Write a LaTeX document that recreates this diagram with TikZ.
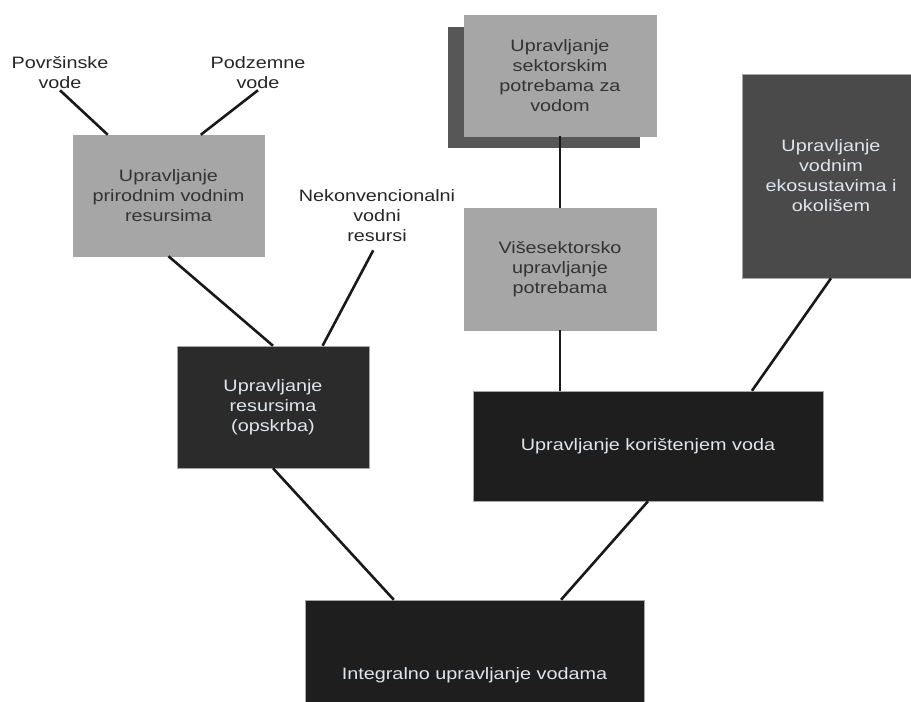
\documentclass[tikz,border=0pt]{standalone}
\usepackage{fontspec}
\setmainfont{Liberation Sans}[FakeStretch=1.2]
\usetikzlibrary{shadows}
\definecolor{lightgr}{HTML}{A6A6A6}
\definecolor{shadowgr}{HTML}{575757}
\definecolor{midgr}{HTML}{4A4A4A}
\definecolor{darkgr}{HTML}{2B2B2B}
\definecolor{nearblack}{HTML}{1E1E1E}
\definecolor{palefont}{HTML}{DDE6EE}
\begin{document}
\begin{tikzpicture}[x=1pt, y=-1pt,
    box/.style={draw=gray!70, line width=0.5pt, align=center, inner sep=0pt,
        font=\fontsize{16.5}{20}\selectfont},
    lightbox/.style={box, fill=lightgr, text=black!80},
    darkbox/.style={box, text=palefont},
    lbl/.style={align=center, inner sep=1pt, text=black!85, font=\fontsize{16.5}{20}\selectfont},
    link/.style={line width=2.6pt, draw=black!90}]
        \useasboundingbox (0,0) rectangle (911,702);

        \node[lbl] (povrsinske) at (60,73) {Površinske\\vode};
        \node[lbl] (podzemne) at (258,73) {Podzemne\\vode};
        \node[lbl] (nekonv) at (377,216) {Nekonvencionalni\\vodni\\resursi};

        \node[lightbox, minimum width=191pt, minimum height=121pt] (prirodni) at (168.5,195.5) {Upravljanje\\prirodnim vodnim\\resursima};
        \node[lightbox, minimum width=192pt, minimum height=121pt,
            drop shadow={shadow xshift=-16pt, shadow yshift=-12pt, opacity=1, fill=shadowgr}] (sektorski) at (560,75.5) {Upravljanje\\sektorskim\\potrebama za\\vodom};
        \node[lightbox, minimum width=192pt, minimum height=122pt] (visesektorsko) at (560,269) {Višesektorsko\\upravljanje\\potrebama};
        \node[darkbox, fill=midgr, minimum width=178pt, minimum height=204pt] (ekosustavi) at (831,176) {Upravljanje\\vodnim\\ekosustavima i\\okolišem};
        \node[darkbox, fill=darkgr, minimum width=192pt, minimum height=122pt] (resursi) at (273,407) {Upravljanje\\resursima\\(opskrba)};
        \node[darkbox, fill=nearblack, minimum width=350pt, minimum height=110pt] (koristenje) at (648,446) {Upravljanje korištenjem voda};
        \node[darkbox, fill=nearblack, minimum width=339pt, minimum height=150pt] (integralno) at (474.5,675) {Integralno upravljanje vodama};

        % veze
        \draw[link] (povrsinske.south) -- (prirodni.135);
        \draw[link] (podzemne.south) -- (prirodni.62);
        \draw[link] (prirodni.south) -- (resursi.north);
        \draw[link, shorten <=8pt] (nekonv.south) -- (resursi.51);
        \draw[link] (resursi.south) -- (integralno.137);
        \draw[link] (koristenje.south) -- (integralno.41);
        \draw[link] (sektorski.south) -- (visesektorsko.north);
        \draw[link] (visesektorsko.south) -- (visesektorsko.south |- koristenje.north);
        \draw[link] (ekosustavi.south) -- (koristenje.28);

    \end{tikzpicture}
\end{document}
